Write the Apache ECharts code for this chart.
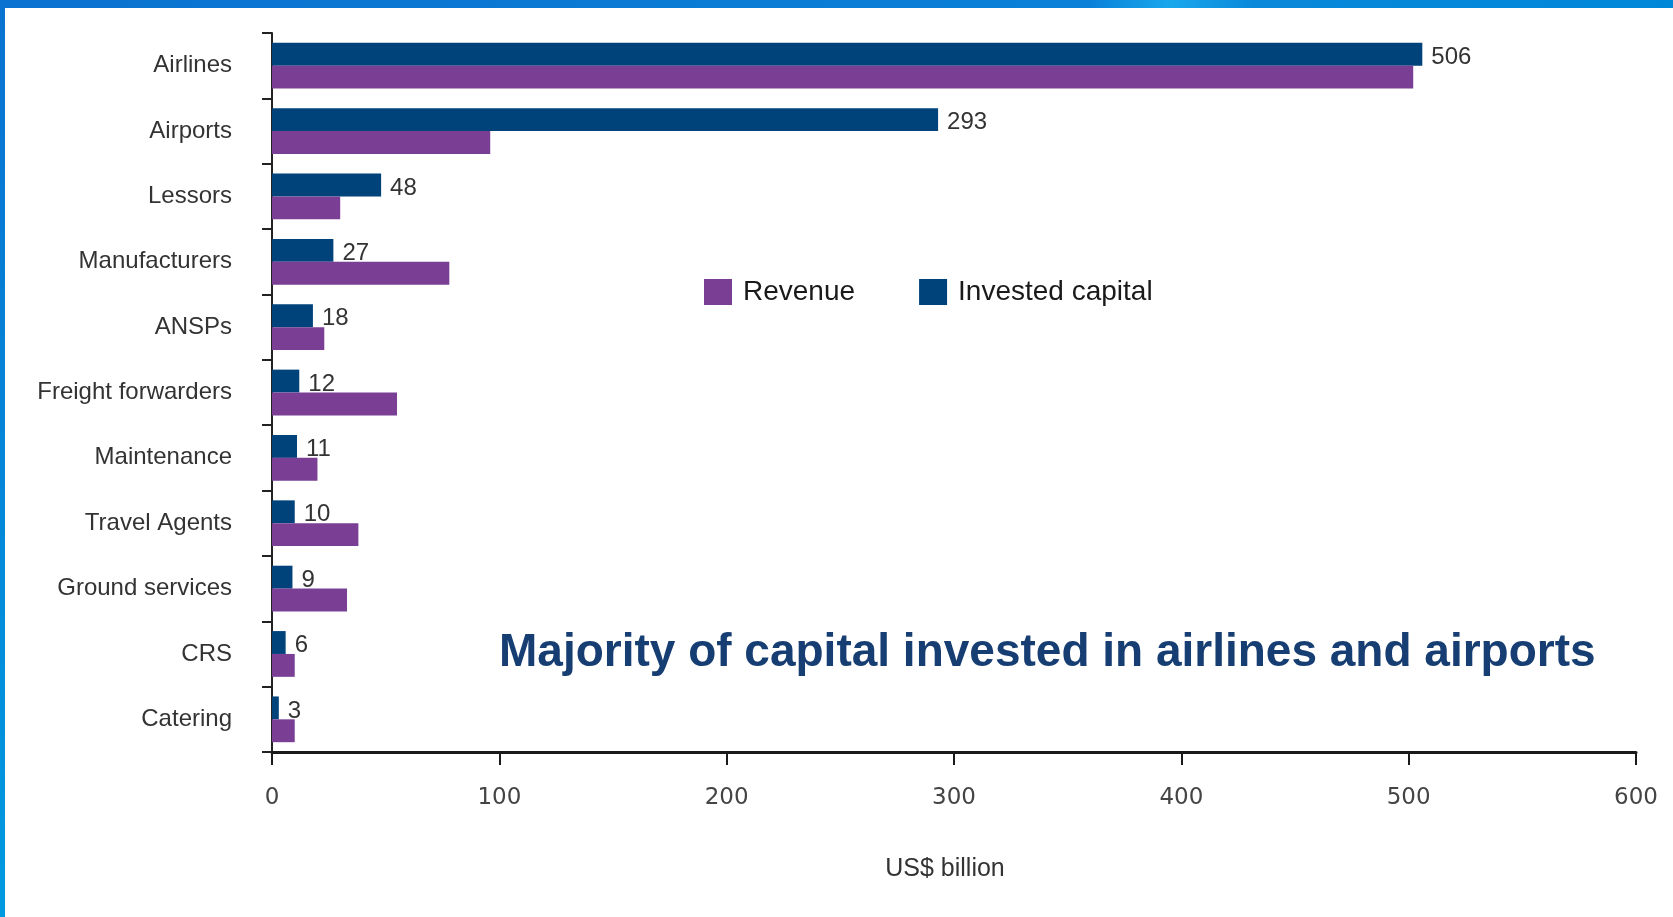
<!DOCTYPE html>
<html>
<head>
<meta charset="utf-8">
<script src="https://cdn.jsdelivr.net/npm/echarts@6/dist/echarts.min.js"></script>
<style>
html,body{margin:0;padding:0;background:#fff;}
#chart{width:1673px;height:917px;}
</style>
</head>
<body>
<div id="chart"></div>
<script>
const categories = ["Airlines","Airports","Lessors","Manufacturers","ANSPs","Freight forwarders","Maintenance","Travel Agents","Ground services","CRS","Catering"];
const investedCapital = [506, 293, 48, 27, 18, 12, 11, 10, 9, 6, 3];
const revenue = [502, 96, 30, 78, 23, 55, 20, 38, 33, 10, 10];
const xTicks = [0, 100, 200, 300, 400, 500, 600];

const chart = echarts.init(document.getElementById('chart'), null, {renderer: 'canvas'});
const font = '"Liberation Sans", Arial, sans-serif';
chart.setOption({
  backgroundColor: '#ffffff',
  animation: false,
  title: {
    text: 'Majority of capital invested in airlines and airports',
    left: 494, top: 625,
    textStyle: {fontFamily: font, fontSize: 46, fontWeight: 'bold', color: '#173e73'}
  },
  legend: {
    left: 699, top: 273,
    itemWidth: 28, itemHeight: 26, itemGap: 64,
    icon: 'rect',
    data: ['Revenue', 'Invested capital'],
    textStyle: {fontFamily: font, fontSize: 28, color: '#1a1a1a', padding: [0, 0, 0, 6]}
  },
  grid: {left: 272, right: 37, top: 33, bottom: 165, containLabel: false},
  xAxis: {
    type: 'value', min: xTicks[0], max: xTicks[xTicks.length - 1], interval: 100,
    name: 'US$ billion', nameLocation: 'middle', nameGap: 105,
    nameTextStyle: {fontFamily: font, fontSize: 25, color: '#333', padding: [0, 18, 0, 0]},
    axisLine: {show: true, lineStyle: {color: '#1a1a1a', width: 3}},
    axisTick: {show: true, length: 13, lineStyle: {color: '#1a1a1a', width: 2}},
    axisLabel: {fontFamily: '"DejaVu Sans", sans-serif', fontSize: 23, color: '#444', margin: 35},
    splitLine: {show: false}
  },
  yAxis: {
    type: 'category', data: categories, inverse: true,
    axisLine: {show: true, lineStyle: {color: '#222', width: 2}},
    axisTick: {show: true, length: 10, lineStyle: {color: '#222', width: 2}},
    axisLabel: {fontFamily: font, fontSize: 24, color: '#333', margin: 40, padding: [5, 0, 0, 0]}
  },
  series: [
    {
      name: 'Invested capital', type: 'bar', data: investedCapital,
      barCategoryGap: '30%', barGap: '0%',
      itemStyle: {color: '#00427a'},
      label: {show: true, position: 'right', distance: 9, offset: [0, 3], fontFamily: font, fontSize: 24, color: '#333'}
    },
    {
      name: 'Revenue', type: 'bar', data: revenue,
      barCategoryGap: '30%', barGap: '0%',
      itemStyle: {color: '#7a3f95'}
    }
  ],
  graphic: [
    {type: 'rect', left: 0, top: 0, shape: {width: 1673, height: 8}, silent: true,
     style: {fill: new echarts.graphic.LinearGradient(0, 0, 1, 0, [
       {offset: 0, color: '#0a72d0'}, {offset: 0.65, color: '#0a80d8'}, {offset: 0.7, color: '#19a8ec'}, {offset: 0.75, color: '#0a88da'}, {offset: 1, color: '#0088d8'}])}},
    {type: 'rect', left: 0, top: 0, shape: {width: 5, height: 917}, silent: true,
     style: {fill: new echarts.graphic.LinearGradient(0, 0, 0, 1, [
       {offset: 0, color: '#0a72d0'}, {offset: 1, color: '#009ae0'}])}}
  ]
});
</script>
</body>
</html>
